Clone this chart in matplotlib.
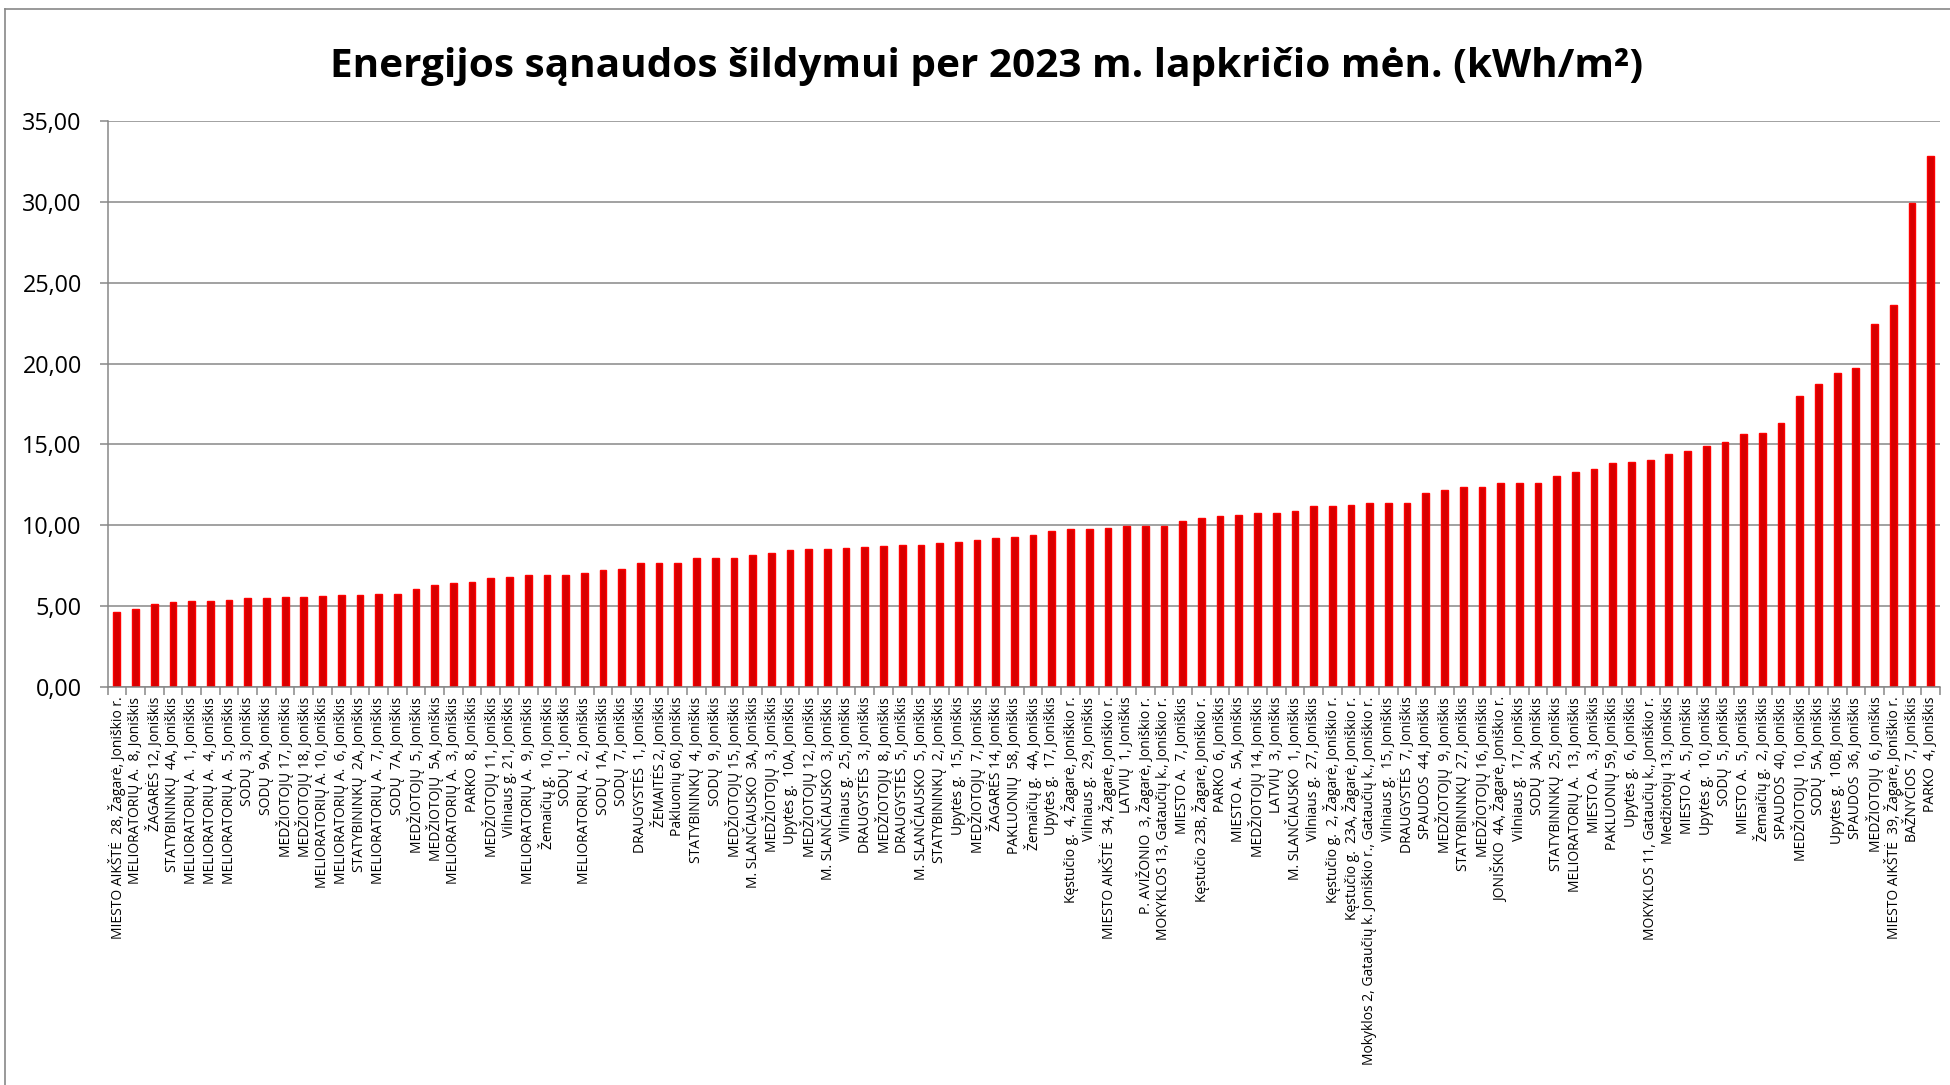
import matplotlib
matplotlib.use('Agg')
import matplotlib.pyplot as plt
from matplotlib.ticker import FuncFormatter
from matplotlib.lines import Line2D

categories = [
    "MIESTO AIKŠTĖ  28, Žagarė, Joniškio r.",
    "MELIORATORIŲ A.  8, Joniškis",
    "ŽAGARĖS 12, Joniškis",
    "STATYBININKŲ  4A, Joniškis",
    "MELIORATORIŲ A.  1, Joniškis",
    "MELIORATORIŲ A.  4, Joniškis",
    "MELIORATORIŲ A.  5, Joniškis",
    "SODŲ  3, Joniškis",
    "SODŲ  9A, Joniškis",
    "MEDŽIOTOJŲ 17, Joniškis",
    "MEDŽIOTOJŲ 18, Joniškis",
    "MELIORATORIŲ A. 10, Joniškis",
    "MELIORATORIŲ A.  6, Joniškis",
    "STATYBININKŲ  2A, Joniškis",
    "MELIORATORIŲ A.  7, Joniškis",
    "SODŲ  7A, Joniškis",
    "MEDŽIOTOJŲ  5, Joniškis",
    "MEDŽIOTOJŲ  5A, Joniškis",
    "MELIORATORIŲ A.  3, Joniškis",
    "PARKO  8, Joniškis",
    "MEDŽIOTOJŲ 11, Joniškis",
    "Vilniaus g. 21, Joniškis",
    "MELIORATORIŲ A.  9, Joniškis",
    "Žemaičių g.  10, Joniškis",
    "SODŲ  1, Joniškis",
    "MELIORATORIŲ A.  2, Joniškis",
    "SODŲ  1A, Joniškis",
    "SODŲ  7, Joniškis",
    "DRAUGYSTĖS  1, Joniškis",
    "ŽEMAITĖS 2, Joniškis",
    "Pakluonių 60, Joniškis",
    "STATYBININKŲ  4, Joniškis",
    "SODŲ  9, Joniškis",
    "MEDŽIOTOJŲ 15, Joniškis",
    "M. SLANČIAUSKO  3A, Joniškis",
    "MEDŽIOTOJŲ  3, Joniškis",
    "Upytės g.  10A, Joniškis",
    "MEDŽIOTOJŲ 12, Joniškis",
    "M. SLANČIAUSKO  3, Joniškis",
    "Vilniaus g.  25, Joniškis",
    "DRAUGYSTĖS  3, Joniškis",
    "MEDŽIOTOJŲ  8, Joniškis",
    "DRAUGYSTĖS  5, Joniškis",
    "M. SLANČIAUSKO  5, Joniškis",
    "STATYBININKŲ  2, Joniškis",
    "Upytės g.  15, Joniškis",
    "MEDŽIOTOJŲ  7, Joniškis",
    "ŽAGARĖS 14, Joniškis",
    "PAKLUONIŲ  58, Joniškis",
    "Žemaičių g.  4A, Joniškis",
    "Upytės g.  17, Joniškis",
    "Kęstučio g.  4, Žagarė, Joniškio r.",
    "Vilniaus g.  29, Joniškis",
    "MIESTO AIKŠTĖ  34, Žagarė, Joniškio r.",
    "LATVIŲ  1, Joniškis",
    "P. AVIŽONIO  3, Žagarė, Joniškio r.",
    "MOKYKLOS 13, Gataučių k., Joniškio r.",
    "MIESTO A.  7, Joniškis",
    "Kęstučio 23B, Žagarė, Joniškio r.",
    "PARKO  6, Joniškis",
    "MIESTO A.  5A, Joniškis",
    "MEDŽIOTOJŲ 14, Joniškis",
    "LATVIŲ  3, Joniškis",
    "M. SLANČIAUSKO  1, Joniškis",
    "Vilniaus g.  27, Joniškis",
    "Kęstučio g.  2, Žagarė, Joniškio r.",
    "Kęstučio g.  23A, Žagarė, Joniškio r.",
    "Mokyklos 2, Gataučių k. Joniškio r., Gataučių k., Joniškio r.",
    "Vilniaus g.  15, Joniškis",
    "DRAUGYSTĖS  7, Joniškis",
    "SPAUDOS  44, Joniškis",
    "MEDŽIOTOJŲ  9, Joniškis",
    "STATYBININKŲ  27, Joniškis",
    "MEDŽIOTOJŲ 16, Joniškis",
    "JONIŠKIO  4A, Žagarė, Joniškio r.",
    "Vilniaus g.  17, Joniškis",
    "SODŲ  3A, Joniškis",
    "STATYBININKŲ  25, Joniškis",
    "MELIORATORIŲ A.  13, Joniškis",
    "MIESTO A.  3, Joniškis",
    "PAKLUONIŲ 59, Joniškis",
    "Upytės g.  6, Joniškis",
    "MOKYKLOS 11, Gataučių k., Joniškio r.",
    "Medžiotojų 13, Joniškis",
    "MIESTO A.  5, Joniškis",
    "Upytės g.  10, Joniškis",
    "SODŲ  5, Joniškis",
    "MIESTO A.  5, Joniškis",
    "Žemaičių g.  2, Joniškis",
    "SPAUDOS  40, Joniškis",
    "MEDŽIOTOJŲ  10, Joniškis",
    "SODŲ  5A, Joniškis",
    "Upytės g.  10B, Joniškis",
    "SPAUDOS  36, Joniškis",
    "MEDŽIOTOJŲ  6, Joniškis",
    "MIESTO AIKŠTĖ  39, Žagarė, Joniškio r.",
    "BAŽNYČIOS  7, Joniškis",
    "PARKO  4, Joniškis",
]

values = [
    4.65, 4.83, 5.15, 5.27, 5.31, 5.33, 5.37, 5.48, 5.52, 5.54,
    5.56, 5.60, 5.69, 5.69, 5.73, 5.77, 6.04, 6.29, 6.42, 6.52,
    6.71, 6.83, 6.90, 6.92, 6.92, 7.08, 7.23, 7.27, 7.67, 7.67,
    7.67, 7.98, 7.97, 7.99, 8.16, 8.30, 8.46, 8.55, 8.55, 8.59,
    8.67, 8.71, 8.77, 8.77, 8.89, 8.98, 9.08, 9.20, 9.26, 9.43,
    9.67, 9.75, 9.80, 9.84, 9.94, 9.94, 9.96, 10.27, 10.45, 10.57,
    10.64, 10.74, 10.74, 10.86, 11.19, 11.21, 11.27, 11.35, 11.35, 11.37,
    11.97, 12.19, 12.34, 12.34, 12.60, 12.60, 12.60, 13.03, 13.30, 13.46,
    13.83, 13.89, 14.02, 14.43, 14.57, 14.90, 15.18, 15.63, 15.70, 16.35,
    17.99, 18.73, 19.39, 19.75, 22.45, 23.65, 29.92, 32.86,
]

y_ticks = [0, 5, 10, 15, 20, 25, 30, 35]
title = "Energijos sąnaudos šildymui per 2023 m. lapkričio mėn. (kWh/m²)"

plt.rcParams['font.family'] = ['Open Sans', 'DejaVu Sans']

W, H = 1950, 1085
GRAY = '#878787'
fig = plt.figure(figsize=(W / 100, H / 100), dpi=100)
ax = fig.add_axes([107.5 / W, 1 - 687 / H, (1940 - 107.5) / W, (687 - 121) / H])

xpos = list(range(len(values)))
ax.bar(xpos, values, width=0.36, color='#D80000', edgecolor='#FF0000',
       linewidth=1.0, zorder=3)
ax.set_xlim(-0.5, len(values) - 0.5)
ax.set_ylim(0, 35)
ax.set_yticks(y_ticks)
ax.yaxis.set_major_formatter(FuncFormatter(lambda v, p: f"{v:.2f}".replace('.', ',')))
ax.grid(axis='y', color=GRAY, linewidth=1.1, zorder=0)
ax.grid(axis='x', visible=False)
for s in ['top', 'right']:
    ax.spines[s].set_visible(False)
for s in ['left', 'bottom']:
    ax.spines[s].set_color(GRAY)
    ax.spines[s].set_linewidth(1.1)
    ax.spines[s].set_zorder(4)
ax.tick_params(axis='y', length=6, width=1.1, color=GRAY, labelsize=16.8, pad=12.5,
               labelcolor='black')

ax.set_xticks(xpos)
ax.set_xticklabels(categories, rotation=90, fontsize=9)
ax.tick_params(axis='x', which='major', length=0, pad=7)
ax.set_xticks([i + 0.5 for i in range(-1, len(values))], minor=True)
ax.tick_params(axis='x', which='minor', length=6, width=1.1, color=GRAY)

t = fig.text(987 / W, 1 - 77 / H, title, ha='center', va='baseline',
             fontsize=28, fontweight='bold', color='black')

# chart-area border (left and top visible in the reference)
fig.add_artist(Line2D([5 / W, 5 / W], [0, 1 - 9 / H], transform=fig.transFigure,
                      color=GRAY, linewidth=1.2))
fig.add_artist(Line2D([5 / W, 1], [1 - 9 / H, 1 - 9 / H], transform=fig.transFigure,
                      color=GRAY, linewidth=1.2))

# fit text sizes to reference widths
fig.canvas.draw()
r = fig.canvas.get_renderer()
bb = t.get_window_extent(r)
t.set_fontsize(28 * 1310 / bb.width)
lbl = ax.get_xticklabels()[0]
lb = lbl.get_window_extent(r)
fs = 9 * 245 / lb.height
for l in ax.get_xticklabels():
    l.set_fontsize(fs)

fig.savefig('out.png', dpi=100, facecolor='white')
